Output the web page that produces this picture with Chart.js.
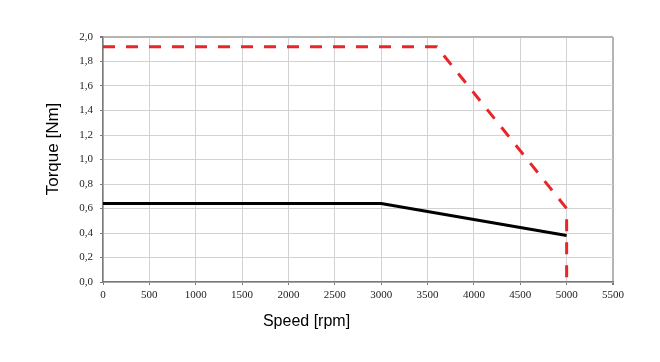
<!DOCTYPE html>
<html>
<head>
<meta charset="utf-8">
<script src="https://cdn.jsdelivr.net/npm/chart.js@4/dist/chart.umd.min.js"></script>
<style>
  html, body { margin: 0; padding: 0; background: #fff; }
  #wrap { width: 660px; height: 362px; }
</style>
</head>
<body>
<div id="wrap"><canvas id="c" width="660" height="362"></canvas></div>
<script>
// Peak torque (red dashed)
const peakSpeed  = [0, 3600, 5000, 5000];
const peakTorque = [1.92, 1.92, 0.60, 0.00];
// Continuous torque (black)
const contSpeed  = [0, 3000, 5000];
const contTorque = [0.64, 0.64, 0.38];
// Tick labels
const xTickValues = [0, 500, 1000, 1500, 2000, 2500, 3000, 3500, 4000, 4500, 5000, 5500];
const yTickValues = [0.0, 0.2, 0.4, 0.6, 0.8, 1.0, 1.2, 1.4, 1.6, 1.8, 2.0];
const xTitle = 'Speed [rpm]';
const yTitle = 'Torque [Nm]';

const toPts = (xs, ys) => xs.map((x, i) => ({ x: x, y: ys[i] }));

const tickFont = { family: "'Liberation Serif', 'DejaVu Serif', serif", size: 11 };
const xTitleFont = { family: "'Liberation Sans', Arial, sans-serif", size: 16, weight: 'normal' };
const yTitleFont = { family: "'Liberation Sans', Arial, sans-serif", size: 17, weight: 'normal' };

new Chart(document.getElementById('c'), {
  type: 'line',
  data: {
    datasets: [
      {
        label: 'Peak',
        data: toPts(peakSpeed, peakTorque),
        borderColor: '#e8262a',
        borderWidth: 3,
        borderDash: [12, 11],
        pointRadius: 0,
        fill: false,
        tension: 0
      },
      {
        label: 'Continuous',
        data: toPts(contSpeed, contTorque),
        borderColor: '#000000',
        borderWidth: 3,
        pointRadius: 0,
        fill: false,
        tension: 0
      }
    ]
  },
  options: {
    responsive: false,
    animation: false,
    devicePixelRatio: 1,
    layout: { padding: { left: 0, right: 47, top: 37, bottom: 0 } },
    plugins: {
      legend: { display: false },
      tooltip: { enabled: false },
      title: {
        display: true,
        position: 'bottom',
        text: xTitle,
        color: '#000',
        font: xTitleFont,
        padding: { top: 0, bottom: 31 }
      }
    },
    scales: {
      x: {
        type: 'linear',
        min: 0,
        max: 5500,
        afterBuildTicks: (s) => { s.ticks = xTickValues.map(v => ({ value: v })); },
        afterFit: (s) => { s.height = 29.8; },
        ticks: {
          callback: (v) => String(v),
          font: tickFont,
          color: '#222',
          padding: 4,
          maxRotation: 0,
          autoSkip: false
        },
        grid: {
          color: (ctx) => ctx.tick && ctx.tick.value === 5500 ? '#b4b4b4' : '#d2d2d2',
          lineWidth: (ctx) => ctx.tick && ctx.tick.value === 5500 ? 2 : 1,
          tickColor: '#7a7a7a',
          tickLength: 3
        },
        border: { display: true, color: '#7a7a7a', width: 1.5 }
      },
      y: {
        type: 'linear',
        min: 0,
        max: 2.0,
        afterBuildTicks: (s) => { s.ticks = yTickValues.map(v => ({ value: v })); },
        afterFit: (s) => {
          s.width = 103;
          if (!s._titlePatched) {
            const orig = s.drawTitle;
            s.drawTitle = function () {
              const t = this.top;
              this.top = t - 21;
              const r = orig.apply(this, arguments);
              this.top = t;
              return r;
            };
            s._titlePatched = true;
          }
        },
        ticks: {
          callback: (v) => Number(v).toFixed(1).replace('.', ','),
          font: tickFont,
          color: '#222',
          padding: 7,
          autoSkip: false
        },
        grid: {
          color: (ctx) => ctx.tick && Math.abs(ctx.tick.value - 2.0) < 1e-9 ? '#b4b4b4' : '#d2d2d2',
          lineWidth: (ctx) => ctx.tick && Math.abs(ctx.tick.value - 2.0) < 1e-9 ? 2 : 1,
          tickColor: '#7a7a7a',
          tickLength: 3
        },
        border: { display: true, color: '#7a7a7a', width: 1.5 },
        title: {
          display: true,
          text: yTitle,
          color: '#000',
          font: yTitleFont,
          padding: { top: 43, bottom: 0 }
        }
      }
    }
  }
});
</script>
</body>
</html>
